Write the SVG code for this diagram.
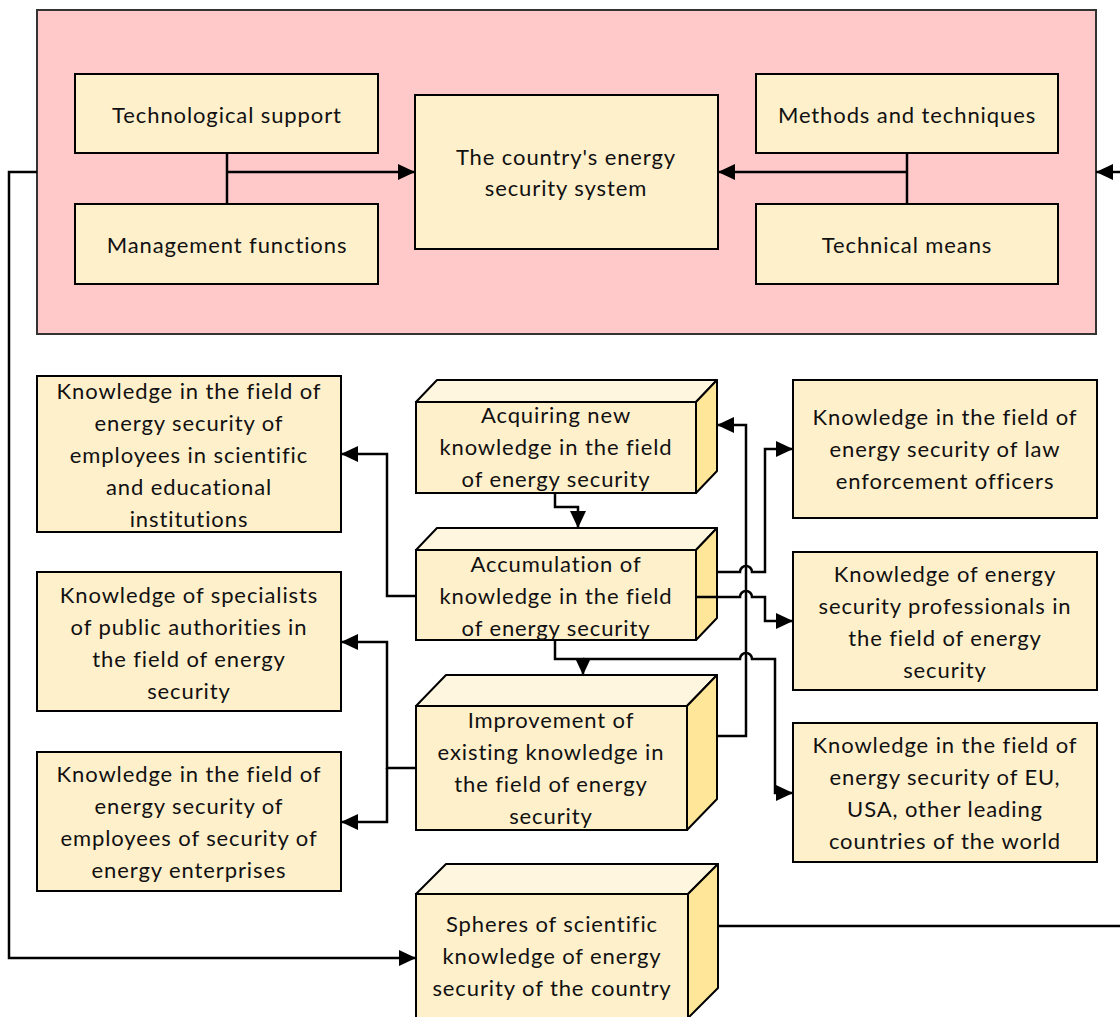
<svg xmlns="http://www.w3.org/2000/svg" width="1120" height="1017" viewBox="0 0 1120 1017">
<style>
.box{fill:#FFF0CC;stroke:#000;stroke-width:2}
.top{fill:#FFF6DF;stroke:#000;stroke-width:2;stroke-linejoin:round}
.side{fill:#FFE699;stroke:#000;stroke-width:2;stroke-linejoin:round}
.pink{fill:#FFC9C9;stroke:#333;stroke-width:2}
text{font-family:Lato,"Open Sans","Liberation Sans",sans-serif;font-size:22px;letter-spacing:0.9px;fill:#111;text-anchor:middle}
.ln{fill:none;stroke:#000;stroke-width:2.5}
.arr{fill:none;stroke:#000;stroke-width:2.5;marker-end:url(#ah)}
</style>
<defs>
<marker id="ah" markerUnits="userSpaceOnUse" markerWidth="17" markerHeight="16" refX="17" refY="8" orient="auto">
<path d="M0,0 L17,8 L0,16 z" fill="#000"/>
</marker>
</defs>
<g id="container">
<rect class="pink" x="37" y="10" width="1059" height="324"/>
</g>
<g id="tech-support">
<rect class="box" x="75" y="74" width="303" height="79"/>
<text x="227" y="123">Technological support</text>
</g>
<g id="management">
<rect class="box" x="75" y="204" width="303" height="80"/>
<text x="227" y="253">Management functions</text>
</g>
<g id="system">
<rect class="box" x="415" y="95" width="303" height="154"/>
<text x="566" y="165">The country's energy</text>
<text x="566" y="196">security system</text>
</g>
<g id="methods">
<rect class="box" x="756" y="74" width="302" height="79"/>
<text x="907" y="123">Methods and techniques</text>
</g>
<g id="technical">
<rect class="box" x="756" y="204" width="302" height="80"/>
<text x="907" y="253">Technical means</text>
</g>
<g id="acquiring">
<polygon class="top" points="416,402 437,380 717,380 696,402"/>
<polygon class="side" points="696,402 717,380 717,471 696,493"/>
<rect class="box" x="416" y="402" width="280" height="91"/>
<text x="556" y="423">Acquiring new</text>
<text x="556" y="455">knowledge in the field</text>
<text x="556" y="487">of energy security</text>
</g>
<g id="accumulation">
<polygon class="top" points="416,550 437,528 717,528 696,550"/>
<polygon class="side" points="696,550 717,528 717,618 696,640"/>
<rect class="box" x="416" y="550" width="280" height="90"/>
<text x="556" y="572">Accumulation of</text>
<text x="556" y="604">knowledge in the field</text>
<text x="556" y="636">of energy security</text>
</g>
<g id="improvement">
<polygon class="top" points="416,706 446,675 717,675 687,706"/>
<polygon class="side" points="687,706 717,675 717,799 687,830"/>
<rect class="box" x="416" y="706" width="271" height="124"/>
<text x="551" y="728">Improvement of</text>
<text x="551" y="760">existing knowledge in</text>
<text x="551" y="792">the field of energy</text>
<text x="551" y="824">security</text>
</g>
<g id="spheres">
<polygon class="top" points="416,894 446,864 718,864 688,894"/>
<polygon class="side" points="688,894 718,864 718,988 688,1018"/>
<rect class="box" x="416" y="894" width="272" height="124"/>
<text x="552" y="932">Spheres of scientific</text>
<text x="552" y="964">knowledge of energy</text>
<text x="552" y="996">security of the country</text>
</g>
<g id="k-scientific">
<rect class="box" x="37" y="376" width="304" height="156"/>
<text x="189" y="399">Knowledge in the field of</text>
<text x="189" y="431">energy security of</text>
<text x="189" y="463">employees in scientific</text>
<text x="189" y="495">and educational</text>
<text x="189" y="527">institutions</text>
</g>
<g id="k-public">
<rect class="box" x="37" y="572" width="304" height="139"/>
<text x="189" y="603">Knowledge of specialists</text>
<text x="189" y="635">of public authorities in</text>
<text x="189" y="667">the field of energy</text>
<text x="189" y="699">security</text>
</g>
<g id="k-enterprises">
<rect class="box" x="37" y="752" width="304" height="139"/>
<text x="189" y="782">Knowledge in the field of</text>
<text x="189" y="814">energy security of</text>
<text x="189" y="846">employees of security of</text>
<text x="189" y="878">energy enterprises</text>
</g>
<g id="k-law">
<rect class="box" x="793" y="380" width="304" height="138"/>
<text x="945" y="425">Knowledge in the field of</text>
<text x="945" y="457">energy security of law</text>
<text x="945" y="489">enforcement officers</text>
</g>
<g id="k-professionals">
<rect class="box" x="793" y="552" width="304" height="138"/>
<text x="945" y="582">Knowledge of energy</text>
<text x="945" y="614">security professionals in</text>
<text x="945" y="646">the field of energy</text>
<text x="945" y="678">security</text>
</g>
<g id="k-world">
<rect class="box" x="793" y="723" width="304" height="139"/>
<text x="945" y="753">Knowledge in the field of</text>
<text x="945" y="785">energy security of EU,</text>
<text x="945" y="817">USA, other leading</text>
<text x="945" y="849">countries of the world</text>
</g>
<g id="connectors">
<path class="ln" d="M227,153 V204"/>
<path class="arr" d="M227,172 H415"/>
<path class="ln" d="M907,153 V204"/>
<path class="arr" d="M907,172 H718"/>
<path class="arr" d="M37,172 H9 V958 H416"/>
<path class="arr" d="M718,926 H1124 V172 H1096"/>
<path class="arr" d="M555,493 V507 H578 V528"/>
<path class="arr" d="M555,640 V659 H583 V675"/>
<path class="arr" d="M583,659 H740 A6,6 0 0 1 752,659 H775 V793 H793"/>
<path class="arr" d="M718,572 H740 A6,6 0 0 1 752,572 H765 V449 H793"/>
<path class="arr" d="M696,597 H740 A6,6 0 0 1 752,597 H765 V621 H793"/>
<path class="arr" d="M717,736 H746 V425 H717"/>
<path class="arr" d="M416,596 H387 V454 H341"/>
<path class="arr" d="M416,768 H387 V642 H341"/>
<path class="arr" d="M387,768 V822 H341"/>
</g>
</svg>
